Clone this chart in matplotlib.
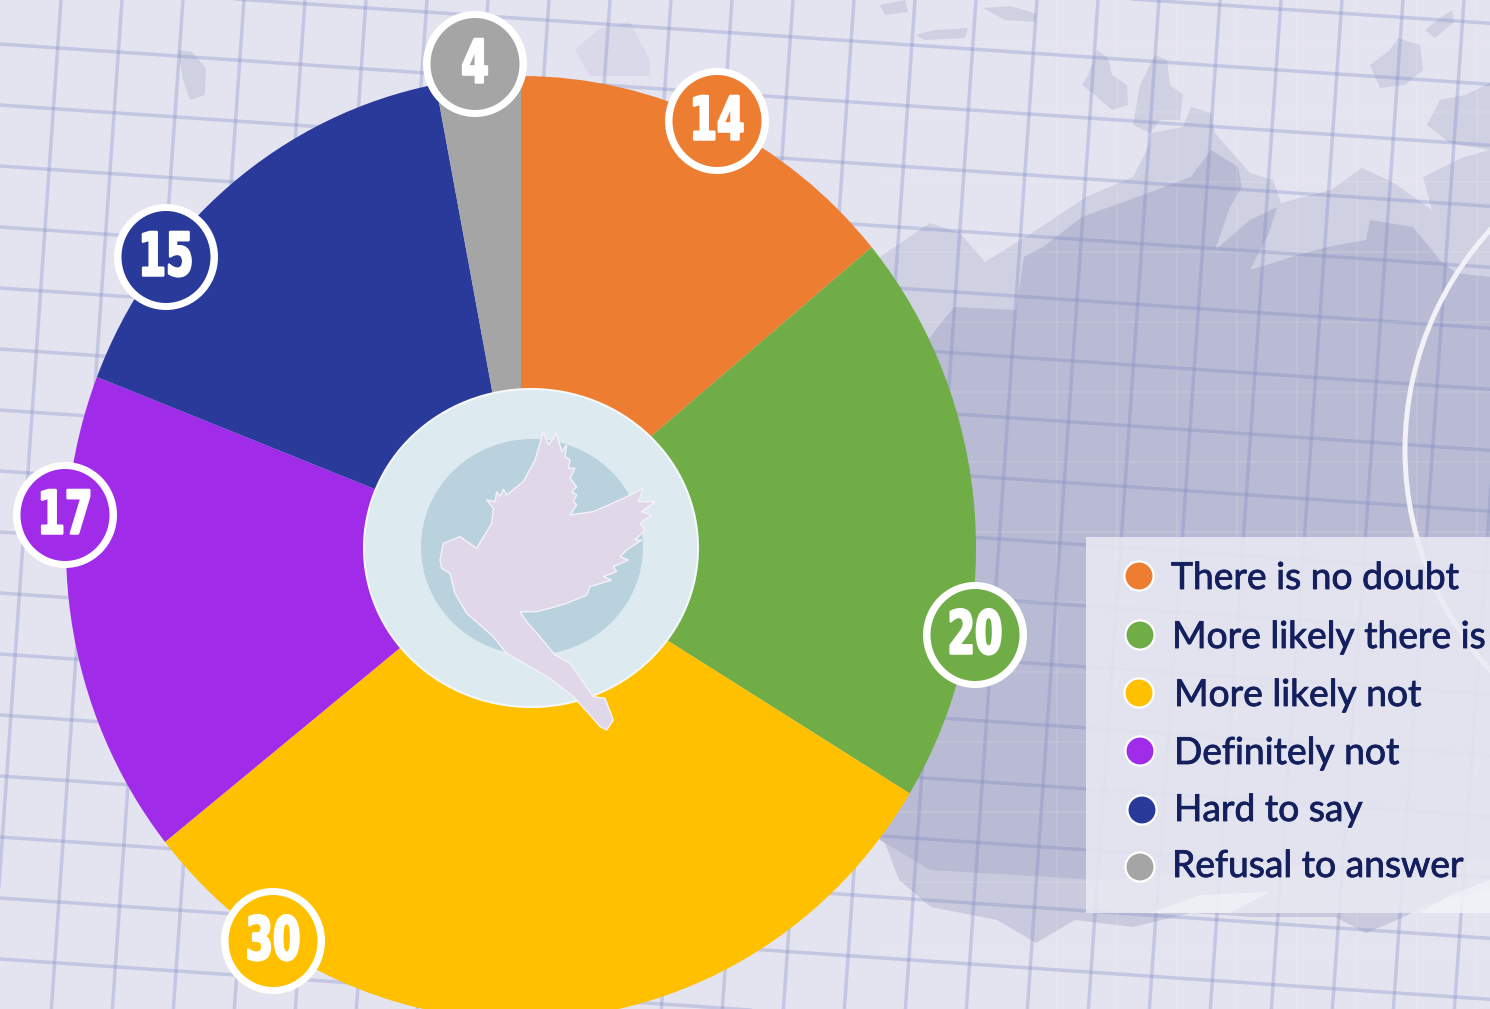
#!/usr/bin/env python3
# -*- coding: utf-8 -*-
"""
Pie chart over a map / grid background, saved to out.png
"""
import numpy as np
import matplotlib
matplotlib.use("Agg")
import matplotlib.pyplot as plt
import matplotlib.patheffects as pe
from matplotlib.patches import Ellipse, Polygon, Rectangle, Arc
from matplotlib.transforms import Affine2D

W, H = 1490, 1009

# data
categories = ["There is no doubt", "More likely there is", "More likely not",
              "Definitely not", "Hard to say", "Refusal to answer"]
values = [14, 20, 30, 17, 15, 4]
# slice sizes as drawn in the picture, they differ a little from the printed labels
slice_sizes = [14, 19.7, 30.6, 16.6, 16.1, 3]
colors = ["#ED7D31", "#70AD47", "#FFC000", "#A02BE8", "#2A3A9A", "#A5A5A5"]

# badge centres, pixels
badge_xy = [(717, 121), (975, 635), (273, 941), (65, 515), (166, 257), (475, 64)]
legend_dot_xy = [(1139, 576), (1140, 635), (1139, 693), (1140, 751), (1142, 810), (1140, 867)]
legend_text_x = [1171, 1172, 1174, 1174, 1174, 1172]
legend_baseline_y = [589, 648, 706, 764, 821, 877]

# background shapes, pixels
land_light = [(880, 400), (880, 257), (930, 223), (960, 233), (985, 262), (1032, 233), (1086, 197),
              (1133, 177), (1148, 147), (1152, 133), (1183, 127), (1191, 107), (1211, 113),
              (1215, 133), (1250, 173), (1273, 180), (1281, 203), (1331, 190), (1362, 168),
              (1394, 183), (1432, 210), (1423, 177), (1464, 157), (1490, 150), (1490, 320), (1024, 380)]
land_dark = [(954, 307), (1016, 310), (1024, 257), (1043, 247), (1082, 217), (1129, 200), (1191, 177),
             (1211, 150), (1238, 167), (1242, 187), (1230, 207), (1215, 250), (1250, 220), (1277, 207),
             (1269, 233), (1250, 270), (1292, 257), (1327, 247), (1366, 240), (1370, 220), (1413, 227),
             (1440, 260), (1456, 273), (1490, 277), (1490, 860), (1340, 860), (1100, 880), (930, 870),
             (880, 840), (880, 400)]
land_south = [(880, 830), (899, 880), (931, 907), (997, 920), (1036, 943), (1075, 920), (1133, 927),
              (1191, 913), (1253, 917), (1335, 917), (1366, 933), (1397, 920), (1432, 903),
              (1490, 890), (1490, 830)]
islands = [
    [(1088, 75), (1097, 50), (1108, 58), (1112, 75), (1127, 85), (1128, 105), (1112, 110), (1095, 95), (1082, 85)],
    [(1133, 125), (1140, 85), (1155, 55), (1167, 60), (1170, 85), (1183, 95), (1180, 120), (1160, 120), (1150, 133)],
    [(1370, 65), (1390, 50), (1398, 38), (1420, 45), (1423, 70), (1405, 85), (1380, 88)],
    [(1427, 125), (1440, 100), (1465, 95), (1490, 83), (1490, 150), (1450, 143)],
    [(1425, 30), (1440, 18), (1452, 10), (1454, 22), (1435, 38)],
    [(915, 35), (935, 30), (968, 28), (965, 38), (925, 40)],
    [(983, 8), (1010, 6), (1037, 14), (1035, 22), (1005, 20)],
    [(880, 5), (905, 0), (908, 12), (885, 15)],
    [(178, 50), (192, 52), (206, 68), (205, 95), (190, 100), (183, 80)],
]
faint_patch = [(575, 50), (600, 28), (630, 22), (650, 60), (650, 76), (590, 76)]
swooshes = [[(1150, 913), (1200, 895), (1270, 892), (1230, 913)],
            [(1420, 913), (1450, 895), (1490, 880), (1490, 913)]]
dove_outline = [
    (240, 540), (250, 490), (300, 470), (350, 505), (395, 430), (400, 385), (380, 360), (405, 365), (410, 335),
    (420, 350), (430, 328), (440, 345), (490, 305), (525, 240), (550, 155), (565, 195), (590, 160), (605, 215),
    (620, 195), (615, 230), (630, 240), (625, 265), (645, 265), (630, 295), (650, 320), (635, 335), (650, 345),
    (640, 365), (650, 375), (630, 405), (700, 395), (790, 355), (850, 325), (835, 365), (885, 365), (845, 395),
    (875, 405), (840, 430), (855, 450), (825, 480), (845, 480), (800, 510), (780, 530), (805, 540), (760, 560),
    (770, 575), (730, 590), (755, 600), (690, 620), (680, 645), (620, 670), (570, 685), (530, 695), (480, 695),
    (500, 725), (540, 770), (585, 825), (630, 850), (665, 900), (700, 950), (735, 955), (760, 1020), (740, 1050),
    (720, 1040), (690, 1005), (640, 950), (570, 895), (510, 860), (440, 820), (400, 770), (320, 700), (285, 640),
    (270, 580), (245, 565)]


class Squeeze(pe.AbstractPathEffect):
    """Narrow a text about a display x and thicken it, no condensed heavy font is installed."""

    def __init__(self, x_disp, sx, width):
        super().__init__()
        self.x_disp = x_disp
        self.sx = sx
        self.width = width

    def draw_path(self, renderer, gc, tpath, affine, rgbFace=None):
        trans = affine + Affine2D().translate(-self.x_disp, 0).scale(self.sx, 1).translate(self.x_disp, 0)
        gc0 = renderer.new_gc()
        gc0.copy_properties(gc)
        gc0.set_linewidth(self.width)
        gc0.set_foreground(rgbFace)
        renderer.draw_path(gc0, tpath, trans, rgbFace)
        gc0.restore()


fig = plt.figure(figsize=(W / 100, H / 100), dpi=100, facecolor="#E4E3F0")


def pixel_axes(zorder):
    ax = fig.add_axes([0, 0, 1, 1], zorder=zorder)
    ax.set_xlim(0, W)
    ax.set_ylim(H, 0)
    ax.axis("off")
    return ax


# background layer
bg = pixel_axes(0)
bg.add_patch(Polygon(land_south, color="#C9CADE", lw=0, zorder=1))
bg.add_patch(Polygon(land_light, color="#CFD0E2", lw=0, zorder=1))
bg.add_patch(Polygon(land_dark, color="#B9BBD4", lw=0, zorder=2))
bg.add_patch(Polygon(faint_patch, color="#D9D9E9", lw=0, zorder=2))
for isl in islands:
    bg.add_patch(Polygon(isl, color="#CFD0E2", lw=0, zorder=2))

# faint white straight grid, then the tilted blue one
for x in range(1057, W, 60):
    bg.plot([x, x], [0, H], color="white", alpha=0.11, lw=1.2, zorder=3)
for y in range(42, H, 70):
    bg.plot([880, W], [y, y], color="white", alpha=0.11, lw=1.2, zorder=3)
ys = np.array([0, H])
for x0 in np.arange(61, W + 100, 61.0):
    bg.plot(x0 - 0.07 * ys, ys, color="#7F8CC4", alpha=0.32, lw=2.5, zorder=3)
xs = np.array([0, W])
for y0 in np.arange(-78, H, 61.0):
    bg.plot(xs, y0 + 0.068 * xs, color="#7F8CC4", alpha=0.32, lw=2.5, zorder=3)

bg.add_patch(Arc((1732, 450), 654, 654, theta1=130, theta2=230, color="#F1F1F7", lw=3.6, zorder=4))
bg.add_patch(Rectangle((1086, 537), W - 1086, 376, facecolor="#EBEBF4", alpha=0.85, lw=0, zorder=5))
for sw in swooshes:
    bg.add_patch(Polygon(sw, color="white", alpha=0.35, lw=0, zorder=5))
bg.scatter([p[0] for p in legend_dot_xy], [p[1] for p in legend_dot_xy], s=440, c=colors,
           edgecolors="white", linewidths=1.6, zorder=6)
for tx, ty, label in zip(legend_text_x, legend_baseline_y, categories):
    txt = bg.text(tx, ty, label, fontsize=26.8, family="Lato", color="#14205E", va="baseline", ha="left", zorder=6)
    txt.set_path_effects([pe.withStroke(linewidth=0.6, foreground="#14205E")])

# pie, slightly taller than wide like the picture
cx, cy, rx, ry = 521, 548, 455, 472
ax = fig.add_axes([(cx - rx) / W, (H - cy - ry) / H, 2 * rx / W, 2 * ry / H], zorder=1)
ax.pie(slice_sizes, colors=colors, startangle=90, counterclock=False, radius=1,
       wedgeprops={"linewidth": 0})
ax.set_aspect("auto")
ax.set_xlim(-1, 1)
ax.set_ylim(-1, 1)
ax.patch.set_visible(False)

# centre emblem and badges
top = pixel_axes(2)
top.add_patch(Ellipse((531, 548), 334, 318, facecolor="#DDEBF1", edgecolor="#F4F8F8", lw=1.5))
top.add_patch(Ellipse((532, 547), 222, 216, facecolor="#B9D2DE", edgecolor="none"))
dove_px = np.array(dove_outline) / 3.0 + np.array([360, 380])
top.add_patch(Polygon(dove_px, facecolor="#E0D8E9", edgecolor="#F4F2F8", lw=1.0))

for (bx, by), val, col in zip(badge_xy, values, colors):
    top.add_patch(Ellipse((bx, by), 104, 106, facecolor="white", edgecolor="none"))
    top.add_patch(Ellipse((bx, by), 89, 92, facecolor=col, edgecolor="none"))
    txt = top.text(bx, by + 2, str(val), fontsize=43, fontweight="bold", color="white", ha="center", va="center",
                   family="DejaVu Sans")
    x_disp = top.transData.transform((bx, by))[0]
    txt.set_path_effects([Squeeze(x_disp, 0.66, 1.8)])

fig.savefig("out.png", dpi=100, facecolor=fig.get_facecolor())
